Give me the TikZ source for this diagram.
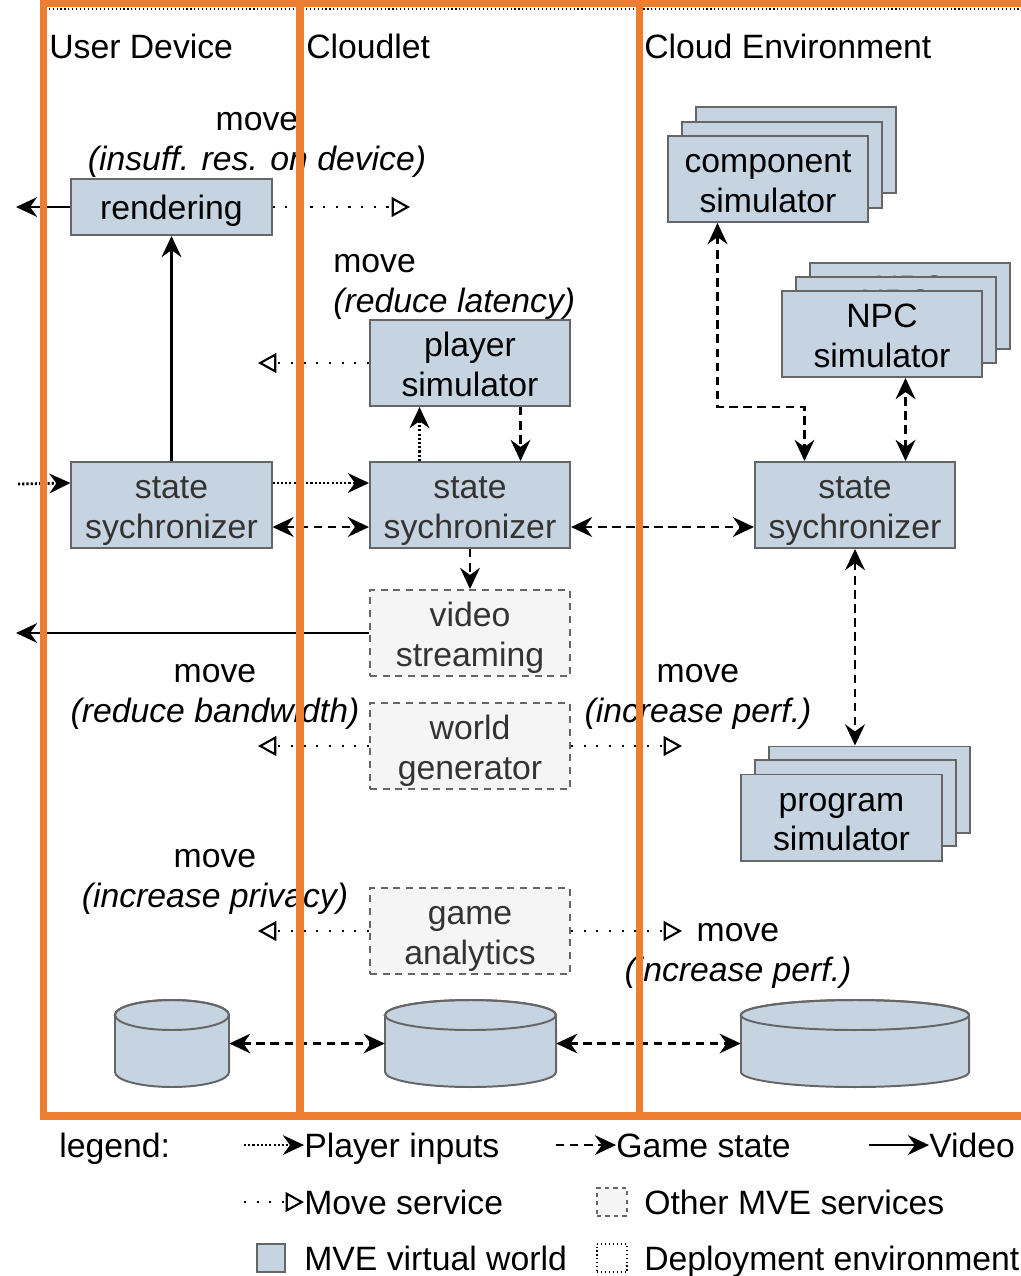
\documentclass[tikz,border=0pt]{standalone}
\usepackage{fontspec}
\setmainfont{Liberation Sans}
\usetikzlibrary{arrows.meta,calc}
\definecolor{vwblue}{HTML}{C6D4E2}
\definecolor{boxline}{HTML}{666666}
\definecolor{othergrey}{HTML}{F5F5F5}
\definecolor{envorange}{HTML}{ED7D31}
\definecolor{txtgrey}{HTML}{333333}
\newcommand{\twoline}[2]{\rule{0pt}{24.9pt}#1\\#2\rule[-5.5pt]{0pt}{5.5pt}}
\newcommand{\oneline}[1]{\rule{0pt}{23.3pt}#1\rule[-5.5pt]{0pt}{5.5pt}}
\tikzset{
  head/.tip={Stealth[length=15pt,width=14pt,inset=5pt]},
  openhead/.tip={Triangle[open,length=13pt,width=14pt]},
  vw/.style={draw=boxline, fill=vwblue, line width=1.4pt, minimum width=5cm, minimum height=2.15cm, align=center, inner sep=0pt},
  other/.style={vw, fill=othergrey, dash pattern=on 5pt off 4pt, text=txtgrey},
  inarrow/.style={line width=2pt, dash pattern=on 1.5pt off 1.5pt, -head},
  gsarrow/.style={line width=2pt, dash pattern=on 6pt off 4pt, head-head},
  vidarrow/.style={line width=2pt, -head},
  mvarrow/.style={line width=1.5pt, dash pattern=on 1.5pt off 7.5pt, -openhead},
  lbl/.style={align=center, inner sep=0pt},
  env/.style={line width=5pt, draw=envorange},
}
\begin{document}
\begin{tikzpicture}[x=0.025cm, y=-0.025cm, font=\fontsize{24pt}{28pt}\selectfont]
\useasboundingbox (0,0) rectangle (1020,1276);
% deployment environments
\draw[dotted, line width=0.8pt] (43.5,9) rectangle (300,1116);
\draw[dotted, line width=0.8pt] (300,9) rectangle (639.5,1116);
\draw[dotted, line width=0.8pt] (639.5,9) rectangle (1045,1116);
\node[anchor=west, inner sep=0pt] (ud) at (49,46) {User Device};
\node[anchor=west, inner sep=0pt] (cl) at (306,46) {Cloudlet};
\node[anchor=west, inner sep=0pt] (ce) at (644,46) {Cloud Environment};

% user device
\node[vw, minimum height=1.4cm] (rend) at (171.5,207) {\oneline{rendering}};
\node[vw, text=txtgrey] (ssu) at (171.5,505) {\twoline{state}{sychronizer}};
% cloudlet
\node[vw] (pl) at (470,363) {\twoline{player}{simulator}};
\node[vw, text=txtgrey] (ssc) at (470,505) {\twoline{state}{sychronizer}};
\node[other] (vid) at (470,633) {\twoline{video}{streaming}};
\node[other] (wg) at (470,746) {\twoline{world}{generator}};
\node[other] (ga) at (470,931) {\twoline{game}{analytics}};
% cloud
\node[vw] (comp3) at (796,150) {};
\node[vw] (comp2) at (782,165) {};
\node[vw] (comp) at (768,179) {\twoline{component}{simulator}};
\node[vw] (npc3) at (910,306) {\twoline{NPC}{simulator}};
\node[vw] (npc2) at (896,320) {\twoline{NPC}{simulator}};
\node[vw] (npc) at (882,334) {\twoline{NPC}{simulator}};
\node[vw, text=txtgrey] (sse) at (855,505) {\twoline{state}{sychronizer}};
\node[vw] (prog3) at (869.5,789.5) {};
\node[vw] (prog2) at (855.5,803) {};
\node[vw] (prog) at (841.5,817.5) {\twoline{program}{simulator}};

% storage
\node[minimum width=2.85cm, minimum height=2.175cm, inner sep=0pt] (cyl1) at (172,1043.5) {};
\node[minimum width=4.275cm, minimum height=2.175cm, inner sep=0pt] (cyl2) at (470.5,1043.5) {};
\node[minimum width=5.7cm, minimum height=2.175cm, inner sep=0pt] (cyl3) at (855,1043.5) {};
\filldraw[draw=boxline, fill=vwblue, line width=1.4pt] (115,1015) -- (115,1072) arc[start angle=180, end angle=360, x radius=1.425cm, y radius=0.375cm] -- (229,1015) arc[start angle=0, end angle=180, x radius=1.425cm, y radius=0.375cm] -- cycle;
\draw[boxline, line width=1.4pt] (172,1015) ellipse[x radius=1.425cm, y radius=0.375cm];
\filldraw[draw=boxline, fill=vwblue, line width=1.4pt] (385,1015) -- (385,1072) arc[start angle=180, end angle=360, x radius=2.1375cm, y radius=0.375cm] -- (556,1015) arc[start angle=0, end angle=180, x radius=2.1375cm, y radius=0.375cm] -- cycle;
\draw[boxline, line width=1.4pt] (470.5,1015) ellipse[x radius=2.1375cm, y radius=0.375cm];
\filldraw[draw=boxline, fill=vwblue, line width=1.4pt] (741,1015) -- (741,1072) arc[start angle=180, end angle=360, x radius=2.85cm, y radius=0.375cm] -- (969,1015) arc[start angle=0, end angle=180, x radius=2.85cm, y radius=0.375cm] -- cycle;
\draw[boxline, line width=1.4pt] (855,1015) ellipse[x radius=2.85cm, y radius=0.375cm];

% free ends
\coordinate (outr) at (16,207);
\coordinate (outv) at (16,633);
\coordinate (inp) at (18,484);
\coordinate (ssenpc) at ($(sse.north west)!0.75!(sse.north east)$);

% connectors
\draw[vidarrow] (rend.west) -- (outr);
\draw[vidarrow] (ssu.north) -- (rend.south);
\draw[vidarrow] (vid.west) -- (outv);
\draw[inarrow] (inp) -- ($(ssu.north west)!0.25!(ssu.south west)$);
\draw[inarrow] ($(ssu.north east)!0.25!(ssu.south east)$) -- ($(ssc.north west)!0.25!(ssc.south west)$);
\draw[inarrow] ($(ssc.north west)!0.25!(ssc.north east)$) -- ($(pl.south west)!0.25!(pl.south east)$);
\draw[gsarrow, -head] ($(pl.south west)!0.75!(pl.south east)$) -- ($(ssc.north west)!0.75!(ssc.north east)$);
\draw[gsarrow] ($(ssu.north east)!0.75!(ssu.south east)$) -- ($(ssc.north west)!0.75!(ssc.south west)$);
\draw[gsarrow] ($(ssc.north east)!0.75!(ssc.south east)$) -- ($(sse.north west)!0.75!(sse.south west)$);
\draw[gsarrow, -head] (ssc.south) -- (vid.north);
\draw[gsarrow] ($(comp.south west)!0.25!(comp.south east)$) -- ++(0,184) -| ($(sse.north west)!0.25!(sse.north east)$);
\draw[gsarrow] (ssenpc) -- (ssenpc |- npc.south);
\draw[gsarrow] (sse.south) -- (sse.south |- prog3.north);
\draw[gsarrow] (cyl1.east) -- (cyl2.west);
\draw[gsarrow] (cyl2.east) -- (cyl3.west);

% move service
\draw[mvarrow] (rend.east) -- (410,207);
\draw[mvarrow] (pl.west) -- (258,363);
\draw[mvarrow] (wg.west) -- (258,746);
\draw[mvarrow] (wg.east) -- (682,746);
\draw[mvarrow] (ga.west) -- (258,931);
\draw[mvarrow] (ga.east) -- (682,931);
\node[lbl] (m1) at (257,145) {move\\\textit{(insuff. res. on device)}};
\node[lbl, align=left, anchor=west] (m2) at (333,287) {move\\\textit{(reduce latency)}};
\node[lbl] (m3) at (215,697) {move\\\textit{(reduce bandwidth)}};
\node[lbl] (m4) at (698,697) {move\\\textit{(increase perf.)}};
\node[lbl] (m5) at (215,882) {move\\\textit{(increase privacy)}};
\node[lbl] (m6) at (738,956) {move\\\textit{(increase perf.)}};

% environments
\draw[env] (43.5,3.5) rectangle (300,1116);
\draw[env] (300,3.5) rectangle (639.5,1116);
\draw[env] (639.5,3.5) rectangle (1045,1116);

% legend
\node[anchor=base west, inner sep=0pt] (leg) at (59,1157) {legend:};
\node[anchor=base west, inner sep=0pt] (lpi) at (304,1157) {Player inputs};
\node[anchor=base west, inner sep=0pt] (lgs) at (616,1157) {Game state};
\node[anchor=base west, inner sep=0pt] (lvi) at (929,1157) {Video};
\node[anchor=base west, inner sep=0pt] (lmv) at (304,1214) {Move service};
\node[anchor=base west, inner sep=0pt] (lot) at (644,1214) {Other MVE services};
\node[anchor=base west, inner sep=0pt] (lvw) at (304,1270) {MVE virtual world};
\node[anchor=base west, inner sep=0pt] (lde) at (644,1270) {Deployment environment};
\draw[inarrow] ([xshift=-1.5cm,yshift=8.5pt]lpi.base west) -- ([yshift=8.5pt]lpi.base west);
\draw[gsarrow, -head] ([xshift=-1.5cm,yshift=8.5pt]lgs.base west) -- ([yshift=8.5pt]lgs.base west);
\draw[vidarrow] ([xshift=-1.5cm,yshift=8.5pt]lvi.base west) -- ([yshift=8.5pt]lvi.base west);
\draw[mvarrow] ([xshift=-1.5cm,yshift=8.5pt]lmv.base west) -- ([yshift=8.5pt]lmv.base west);
\node[other, minimum width=0.75cm, minimum height=0.7cm, dash pattern=on 3pt off 3pt] (kot) at (612,1202) {};
\node[vw, minimum width=0.72cm, minimum height=0.7cm] (kvw) at (271,1258) {};
\node[draw, dotted, line width=0.8pt, minimum width=0.75cm, minimum height=0.7cm, inner sep=0pt] (kde) at (612,1258) {};
\end{tikzpicture}
\end{document}
